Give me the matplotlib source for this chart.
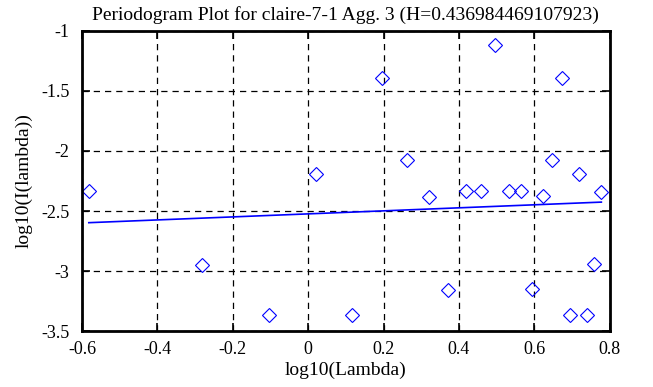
import matplotlib
matplotlib.use("Agg")
import matplotlib.pyplot as plt
import numpy as np

# log10(lambda) and log10(I(lambda))
log_lambda = [-0.582, -0.281, -0.105, 0.020, 0.117, 0.196, 0.263, 0.321,
              0.372, 0.418, 0.459, 0.497, 0.532, 0.564, 0.594, 0.622,
              0.648, 0.673, 0.696, 0.718, 0.739, 0.759, 0.778]
log_I = [-2.333, -2.95, -3.367, -2.19, -3.37, -1.39, -2.078, -2.38,
         -3.158, -2.33, -2.33, -1.117, -2.33, -2.33, -3.153, -2.375,
         -2.078, -1.39, -3.37, -2.19, -3.365, -2.945, -2.34]

H = 0.436984469107923
slope = 1 - 2 * H
intercept = -2.524

xticks = [-0.6, -0.4, -0.2, 0, 0.2, 0.4, 0.6, 0.8]
xticklabels = ["-0.6", "-0.4", "-0.2", "0", "0.2", "0.4", "0.6", "0.8"]
yticks = [-3.5, -3, -2.5, -2, -1.5, -1]
yticklabels = ["-3.5", "-3", "-2.5", "-2", "-1.5", "-1"]

plt.rcParams['font.family'] = ['Liberation Serif', 'DejaVu Serif']

fig = plt.figure(figsize=(6.53, 3.87), dpi=100)
ax = fig.add_axes([0.1256, 0.1447, 0.808, 0.7752])

ax.plot(log_lambda, log_I, linestyle='none', marker='D', markersize=7,
        markerfacecolor='none', markeredgecolor='#0000ff', markeredgewidth=0.8)

fx = np.array([log_lambda[0], log_lambda[-1]])
ax.plot(fx, intercept + slope * fx, color='#0000ff', linewidth=1.2)

ax.set_xlim(-0.6, 0.8)
ax.set_ylim(-3.5, -1)
ax.set_xticks(xticks)
ax.set_xticklabels(xticklabels)
ax.set_yticks(yticks)
ax.set_yticklabels(yticklabels)

ax.grid(True, color='black', linestyle=(0, (5, 4)), linewidth=0.9)
ax.tick_params(direction='in', length=6, width=1.2, top=True, right=True,
               labelsize=13, colors='black')
ax.tick_params(axis='x', pad=7)
ax.tick_params(axis='y', pad=9)
for s in ax.spines.values():
    s.set_linewidth(2)

ax.set_title("Periodogram Plot for claire-7-1 Agg. 3 (H=%s)" % "0.436984469107923",
             fontsize=14, pad=8)
ax.set_xlabel("log10(Lambda)", fontsize=14, labelpad=3)
ax.set_ylabel("log10(I(lambda))", fontsize=14, labelpad=6)

fig.savefig("out.png", dpi=100)
